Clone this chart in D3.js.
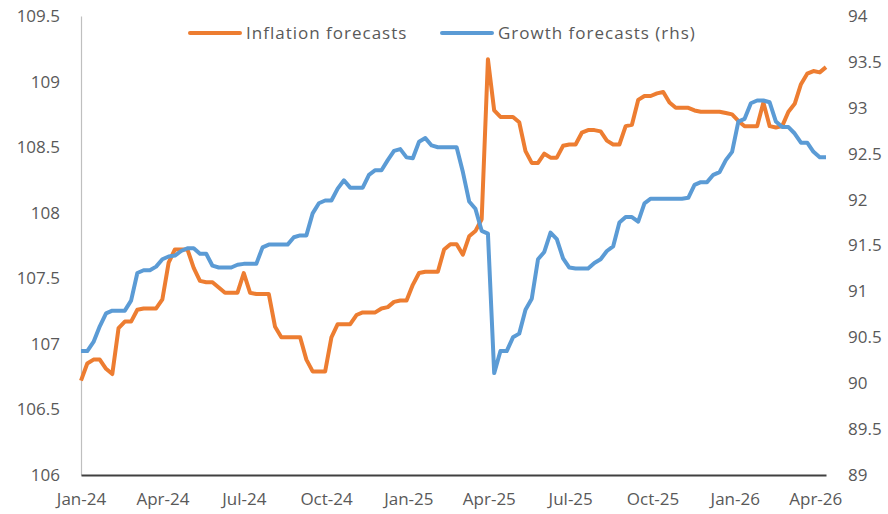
<!DOCTYPE html>
<html>
<head>
<meta charset="utf-8">
<script src="https://cdn.jsdelivr.net/npm/d3@7"></script>
<style>
  body { margin: 0; background: #fff; }
  svg text { font-family: "Open Sans", sans-serif; fill: #595959; }
</style>
</head>
<body>
<svg id="chart"></svg>
<script>
// weekly observations starting first week of Jan 2024
const startDate = new Date(2024, 0, 1);
const nWeeks = 120;

const inflation = [
  106.72, 106.85, 106.88, 106.88, 106.81, 106.77, 107.12, 107.17, 107.17, 107.26,
  107.27, 107.27, 107.27, 107.34, 107.62, 107.72, 107.72, 107.72, 107.58, 107.48,
  107.47, 107.47, 107.43, 107.39, 107.39, 107.39, 107.54, 107.39, 107.38, 107.38,
  107.38, 107.13, 107.05, 107.05, 107.05, 107.05, 106.88, 106.79, 106.79, 106.79,
  107.05, 107.15, 107.15, 107.15, 107.22, 107.24, 107.24, 107.24, 107.27, 107.28,
  107.32, 107.33, 107.33, 107.45, 107.54, 107.55, 107.55, 107.55, 107.72, 107.76,
  107.76, 107.68, 107.82, 107.86, 107.95, 109.17, 108.78, 108.73, 108.73, 108.73,
  108.69, 108.47, 108.38, 108.38, 108.45, 108.42, 108.42, 108.51, 108.52, 108.52,
  108.61, 108.63, 108.63, 108.62, 108.55, 108.52, 108.52, 108.66, 108.67, 108.86,
  108.89, 108.89, 108.91, 108.92, 108.84, 108.80, 108.80, 108.80, 108.78, 108.77,
  108.77, 108.77, 108.77, 108.76, 108.75, 108.70, 108.66, 108.66, 108.66, 108.84,
  108.66, 108.65, 108.66, 108.77, 108.83, 108.98, 109.06, 109.08, 109.07, 109.11
];

const growth = [
  90.35, 90.35, 90.45, 90.62, 90.76, 90.79, 90.79, 90.79, 90.90, 91.20,
  91.23, 91.23, 91.27, 91.35, 91.38, 91.39, 91.44, 91.47, 91.47, 91.41,
  91.41, 91.28, 91.26, 91.26, 91.26, 91.29, 91.30, 91.30, 91.30, 91.48,
  91.51, 91.51, 91.51, 91.51, 91.59, 91.61, 91.61, 91.85, 91.96, 91.99,
  91.99, 92.12, 92.21, 92.13, 92.13, 92.13, 92.27, 92.32, 92.32, 92.43,
  92.53, 92.55, 92.46, 92.45, 92.63, 92.67, 92.59, 92.57, 92.57, 92.57,
  92.57, 92.30, 91.98, 91.90, 91.66, 91.63, 90.11, 90.35, 90.35, 90.50,
  90.54, 90.80, 90.92, 91.35, 91.43, 91.64, 91.57, 91.36, 91.26, 91.25,
  91.25, 91.25, 91.31, 91.35, 91.44, 91.49, 91.75, 91.81, 91.81, 91.76,
  91.96, 92.01, 92.01, 92.01, 92.01, 92.01, 92.01, 92.02, 92.16, 92.19,
  92.19, 92.27, 92.30, 92.43, 92.52, 92.85, 92.88, 93.05, 93.08, 93.08,
  93.06, 92.85, 92.79, 92.79, 92.72, 92.62, 92.62, 92.52, 92.46, 92.46
];

const leftTicks = [106, 106.5, 107, 107.5, 108, 108.5, 109, 109.5];
const rightTicks = [89, 89.5, 90, 90.5, 91, 91.5, 92, 92.5, 93, 93.5, 94];
const xTickDates = [
  new Date(2024, 0, 1), new Date(2024, 3, 1), new Date(2024, 6, 1), new Date(2024, 9, 1),
  new Date(2025, 0, 1), new Date(2025, 3, 1), new Date(2025, 6, 1), new Date(2025, 9, 1),
  new Date(2026, 0, 1), new Date(2026, 3, 1)
];
const seriesNames = ["Inflation forecasts", "Growth forecasts (rhs)"];
const colors = ["#ED7D31", "#5B9BD5"];

const width = 888, height = 514;
const margin = { top: 16, right: 62, bottom: 39, left: 81 };

const dates = d3.range(nWeeks).map(i => d3.timeWeek.offset(startDate, i));

const svg = d3.select("#chart").attr("width", width).attr("height", height);

const x = d3.scaleTime()
  .domain([startDate, dates[dates.length - 1]])
  .range([margin.left, width - margin.right]);

const yL = d3.scaleLinear().domain([106, 109.5]).range([height - margin.bottom, margin.top]);
const yR = d3.scaleLinear().domain([89, 94]).range([height - margin.bottom, margin.top]);

// axes
const leftAxis = svg.append("g")
  .attr("transform", `translate(${margin.left},0)`)
  .call(d3.axisLeft(yL).tickValues(leftTicks).tickSize(0).tickPadding(21).tickFormat(d3.format("")));
leftAxis.select(".domain").attr("stroke", "#bfbfbf").attr("stroke-width", 1.2);

const rightAxis = svg.append("g")
  .attr("transform", `translate(${width - margin.right},0)`)
  .call(d3.axisRight(yR).tickValues(rightTicks).tickSize(0).tickPadding(22).tickFormat(d3.format("")));
rightAxis.select(".domain").remove();

const bottomAxis = svg.append("g")
  .attr("transform", `translate(0,${height - margin.bottom})`)
  .call(d3.axisBottom(x).tickValues(xTickDates).tickSize(0).tickPadding(18).tickFormat(d3.timeFormat("%b-%y")));
bottomAxis.select(".domain").attr("stroke", "#404040").attr("stroke-width", 2);

svg.selectAll(".tick text").style("font-size", "17px").attr("fill", "#595959");

// lines
const lineL = d3.line().x((d, i) => x(dates[i])).y(d => yL(d));
const lineR = d3.line().x((d, i) => x(dates[i])).y(d => yR(d));

svg.append("path")
  .datum(inflation)
  .attr("fill", "none")
  .attr("stroke", colors[0])
  .attr("stroke-width", 4)
  .attr("stroke-linejoin", "round")
  .attr("d", lineL);

svg.append("path")
  .datum(growth)
  .attr("fill", "none")
  .attr("stroke", colors[1])
  .attr("stroke-width", 4)
  .attr("stroke-linejoin", "round")
  .attr("d", lineR);

// legend
const legendX = [190, 442];
const legend = svg.append("g").attr("class", "legend");
const items = legend.selectAll("g")
  .data(seriesNames)
  .enter()
  .append("g")
  .attr("transform", (d, i) => `translate(${legendX[i]}, 33)`);

items.append("line")
  .attr("x1", 0).attr("x2", 50)
  .attr("stroke", (d, i) => colors[i])
  .attr("stroke-width", 4)
  .attr("stroke-linecap", "round");

items.append("text")
  .attr("x", 56)
  .attr("dy", "0.35em")
  .style("font-size", "17px")
  .style("letter-spacing", "1px")
  .text(d => d);
</script>
</body>
</html>
